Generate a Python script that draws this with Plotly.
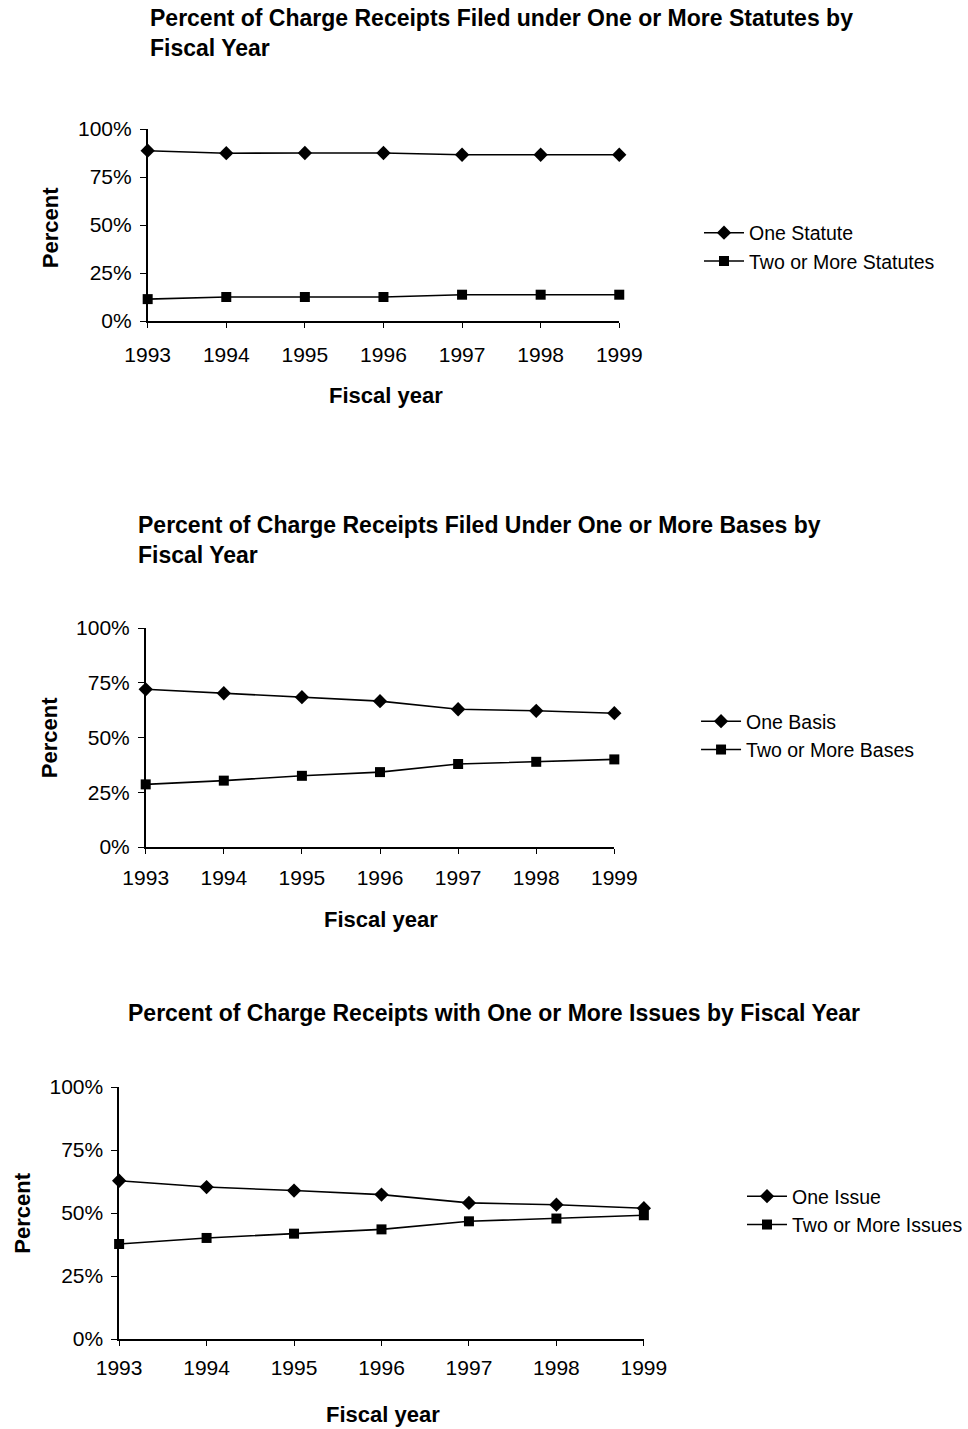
import plotly.graph_objects as go

W, H = 968, 1429

years = [1993, 1994, 1995, 1996, 1997, 1998, 1999]

one_statute = [88.7, 87.4, 87.5, 87.5, 86.6, 86.6, 86.6]
two_statutes = [11.4, 12.5, 12.5, 12.5, 13.7, 13.7, 13.7]

one_basis = [72.0, 70.2, 68.4, 66.6, 62.9, 62.2, 61.1]
two_bases = [28.6, 30.3, 32.5, 34.2, 37.9, 38.9, 40.0]

one_issue = [62.8, 60.3, 58.9, 57.3, 54.0, 53.3, 51.9]
two_issues = [37.7, 40.1, 41.8, 43.5, 46.7, 47.8, 49.1]

y_ticks = [0, 25, 50, 75, 100]
y_tick_labels = ["0%", "25%", "50%", "75%", "100%"]

FONT = "Liberation Sans, Arial, sans-serif"

# panel boxes in pixels: (left, right, top, bottom)
panels = [
    dict(box=(150, 629, 129, 321), xstandoff=9,
         title=["Percent of Charge Receipts Filed under One or More Statutes by", "Fiscal Year"],
         title_xy=(150, 33), ylab_xy=(52, 228), xlab_xy=(392, 396), legend_xy=(710, 247),
         series=[("One Statute", one_statute, "diamond"), ("Two or More Statutes", two_statutes, "square")]),
    dict(box=(148, 624, 628, 847), xstandoff=6,
         title=["Percent of Charge Receipts Filed Under One or More Bases by", "Fiscal Year"],
         title_xy=(138, 540), ylab_xy=(50, 738), xlab_xy=(387, 920), legend_xy=(707, 735.5),
         series=[("One Basis", one_basis, "diamond"), ("Two or More Bases", two_bases, "square")]),
    dict(box=(121, 654, 1087, 1339), xstandoff=4,
         title=["Percent of Charge Receipts with One or More Issues by Fiscal Year"],
         title_xy=(128, 1013), ylab_xy=(22, 1213), xlab_xy=(389, 1414), legend_xy=(754, 1210.5),
         series=[("One Issue", one_issue, "diamond"), ("Two or More Issues", two_issues, "square")]),
]

def px_x(x):
    return x / W

def px_y(y):
    return 1 - y / H

fig = go.Figure()
annotations = []
layout = {}

for i, p in enumerate(panels, start=1):
    l, r, t, b = p["box"]
    xa = "xaxis" if i == 1 else f"xaxis{i}"
    ya = "yaxis" if i == 1 else f"yaxis{i}"
    xref = "x" if i == 1 else f"x{i}"
    yref = "y" if i == 1 else f"y{i}"
    leg = "legend" if i == 1 else f"legend{i}"

    layout[xa] = dict(
        domain=[px_x(l), px_x(r)], anchor=yref, range=[1993, 1999],
        tickmode="array", tickvals=years, ticktext=[str(y) for y in years],
        showline=True, linecolor="black", linewidth=1.5, ticks="outside",
        ticklen=5, tickwidth=1.2, tickcolor="black", showgrid=False, zeroline=False,
        tickfont=dict(family=FONT, size=21, color="black"),
        ticklabelstandoff=p["xstandoff"], automargin=False,
    )
    layout[ya] = dict(
        domain=[px_y(b), px_y(t)], anchor=xref, range=[0, 100],
        tickmode="array", tickvals=y_ticks, ticktext=y_tick_labels,
        showline=True, linecolor="black", linewidth=1.5, ticks="outside",
        ticklen=6, tickwidth=1.2, tickcolor="black", showgrid=False, zeroline=False,
        tickfont=dict(family=FONT, size=21, color="black"), ticklabelstandoff=4,
        automargin=False,
    )

    lx, ly = p["legend_xy"]
    layout[leg] = dict(
        x=px_x(lx), y=px_y(ly), xanchor="left", yanchor="middle",
        bgcolor="rgba(0,0,0,0)", borderwidth=0, tracegroupgap=0,
        font=dict(family=FONT, size=19.5, color="black"), itemwidth=40,
    )

    for name, vals, sym in p["series"]:
        fig.add_trace(go.Scatter(
            x=years, y=vals, name=name, mode="lines+markers",
            xaxis=xref, yaxis=yref, legend=leg, cliponaxis=False,
            line=dict(color="black", width=1.6),
            marker=dict(symbol=sym, size=11 if sym == "diamond" else 10, color="black"),
        ))

    tx, ty = p["title_xy"]
    annotations.append(dict(
        text="<br>".join(p["title"]), xref="paper", yref="paper",
        x=px_x(tx), y=px_y(ty), xanchor="left", yanchor="middle", align="left",
        showarrow=False, font=dict(family=FONT, size=23, color="black", weight="bold"),
    ))
    ax, ay = p["ylab_xy"]
    annotations.append(dict(
        text="Percent", xref="paper", yref="paper", x=px_x(ax), y=px_y(ay),
        xanchor="center", yanchor="middle", textangle=-90, showarrow=False,
        font=dict(family=FONT, size=22, color="black", weight="bold"),
    ))
    fx, fy = p["xlab_xy"]
    annotations.append(dict(
        text="Fiscal year", xref="paper", yref="paper", x=px_x(fx), y=px_y(fy),
        xanchor="center", yanchor="middle", showarrow=False,
        font=dict(family=FONT, size=22, color="black", weight="bold"),
    ))

fig.update_layout(
    width=W, height=H, margin=dict(l=0, r=0, t=0, b=0),
    paper_bgcolor="white", plot_bgcolor="white", showlegend=True,
    annotations=annotations, **layout,
)

fig.write_html("out.html")
